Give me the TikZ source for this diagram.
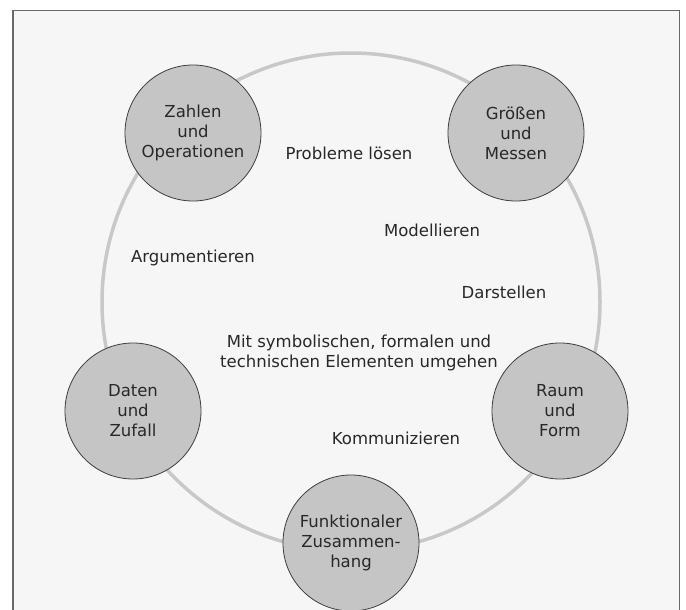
\documentclass[tikz,border=0pt]{standalone}
\usepackage{fontspec}
\setmainfont{DejaVu Sans}
\usepackage{tkz-euclide}
\usetikzlibrary{calc}

\definecolor{ringgray}{RGB}{200,200,200}
\definecolor{ballgray}{RGB}{197,197,197}
\definecolor{paper}{RGB}{246,246,246}
\definecolor{framegray}{RGB}{105,105,105}
\definecolor{ink}{RGB}{40,40,40}

\tikzset{
    field/.style={circle,draw=ink!90,line width=0.8pt,fill=ballgray,minimum size=136pt,inner sep=0pt,
        align=center,text=ink,font=\fontsize{16.5}{20}\selectfont},
    skill/.style={align=center,text=ink,font=\fontsize{16.5}{20}\selectfont}
}

\begin{document}
\begin{tikzpicture}[x=1pt,y=-1pt]
        \useasboundingbox (0,0) rectangle (686,610);
        \fill[white] (0,0) rectangle (686,610);
        \fill[paper] (13,10.5) rectangle (679.5,610);
        \draw[framegray,line width=1.5pt] (13,610) -- (13,10.5) -- (679.5,10.5) -- (679.5,610);
        \tkzDefPoint(351,302){M}
        \tkzDefPoint(193,133){Z}
        \tkzDefPoint(516,133){G}
        \tkzDefPoint(133,411){D}
        \tkzDefPoint(560,411){R}
        \tkzDefPoint(351,543){F}
        \draw[ringgray,line width=3.5pt] (M) circle[radius=249pt];
        \node[field] (zahlen) at (Z) {Zahlen\\und\\Operationen};
        \node[field] (groessen) at (G) {Größen\\und\\Messen};
        \node[field] (daten) at (D) {Daten\\und\\Zufall};
        \node[field] (raum) at (R) {Raum\\und\\Form};
        \node[field] (funktion) at (F) {Funktionaler\\Zusammen-\\hang};
        \node[skill] (probleme) at (349,153) {Probleme lösen};
        \node[skill] (modell) at (432,230) {Modellieren};
        \node[skill] (argument) at (193,258) {Argumentieren};
        \node[skill] (darstellen) at (504,292) {Darstellen};
        \node[skill] (symbol) at (359,353) {Mit symbolischen, formalen und\\technischen Elementen umgehen};
        \node[skill] (kommun) at (396,438) {Kommunizieren};
    \end{tikzpicture}
\end{document}
